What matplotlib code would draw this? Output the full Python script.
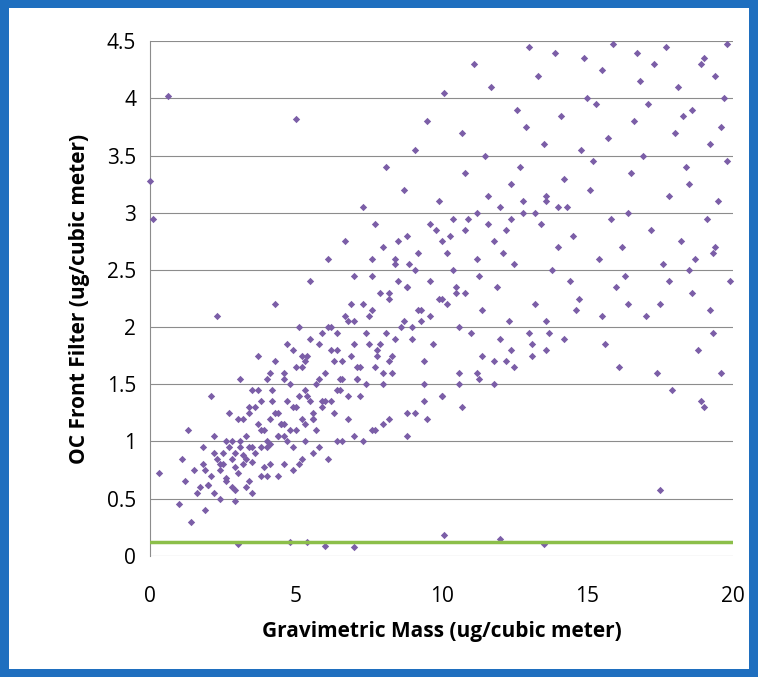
import matplotlib.pyplot as plt
from matplotlib.patches import Rectangle

# points read (approximately) off the reference scatter: outer spread
gravimetric_mass = [
    0.0, 0.1, 0.6, 0.3, 1.0, 1.2, 1.4, 1.1, 1.6, 1.8, 1.3, 1.5, 2.0, 2.2, 1.9, 2.4, 2.1, 2.6, 2.3, 2.8,
    2.5, 3.0, 2.7, 3.2, 2.9, 3.4, 3.1, 3.6, 3.3, 3.8, 3.5, 4.0, 3.7, 4.2, 3.9, 4.4, 4.1, 4.6, 4.3, 4.8,
    4.5, 5.0, 4.7, 5.2, 4.9, 5.4, 5.1, 5.6, 5.3, 5.8, 5.5, 6.0, 5.7, 6.2, 5.9, 6.4, 6.1, 6.6, 6.3, 6.8,
    6.5, 7.0, 6.7, 7.2, 6.9, 7.4, 7.1, 7.6, 7.3, 7.8, 7.5, 8.0, 7.7, 8.2, 7.9, 8.4, 8.1, 8.6, 8.3, 8.8,
    8.5, 9.0, 8.7, 9.2, 8.9, 9.4, 9.1, 9.6, 9.3, 9.8, 9.5, 10.0, 9.7, 10.2, 9.9, 10.4, 10.1, 10.6, 10.3, 10.8,
    10.5, 11.0, 10.7, 11.2, 10.9, 11.4, 11.1, 11.6, 11.3, 11.8, 11.5, 12.0, 11.7, 12.2, 11.9, 12.4, 12.1, 12.6, 12.3, 12.8,
    12.5, 13.0, 12.7, 13.2, 12.9, 13.4, 13.1, 13.6, 13.3, 13.8, 13.5, 14.0, 13.7, 14.2, 13.9, 14.4, 14.1, 14.6, 14.3, 14.8,
    14.5, 15.0, 14.7, 15.2, 14.9, 15.4, 15.1, 15.6, 15.3, 15.8, 15.5, 16.0, 15.7, 16.2, 15.9, 16.4, 16.1, 16.6, 16.3, 16.8,
    16.5, 17.0, 16.7, 17.2, 16.9, 17.4, 17.1, 17.6, 17.3, 17.8, 17.5, 18.0, 17.7, 18.2, 17.9, 18.4, 18.1, 18.6, 18.3, 18.8,
    18.5, 19.0, 18.7, 19.2, 18.9, 19.4, 19.1, 19.6, 19.3, 19.8, 19.5, 19.9, 19.7, 19.6, 19.8, 19.2, 18.9, 19.4, 18.6, 19.0,
    3.1, 4.6, 5.9, 7.1, 6.4, 8.2, 3.8, 5.3, 4.1, 6.8, 2.4, 3.5, 4.9, 5.6, 7.7, 6.1, 8.8, 9.5, 10.7, 11.8,
    12.5, 13.6, 2.9, 3.3, 4.4, 5.1, 6.6, 7.3, 8.0, 9.1, 10.0, 11.3, 12.2, 13.1, 14.2, 15.5, 16.4, 17.8, 18.5, 19.3,
    13.5, 12.0, 10.1, 17.5, 5.4, 3.0, 7.0, 4.8, 6.0, 5.0,
]
oc_front_filter = [
    3.28, 2.95, 4.02, 0.72, 0.45, 0.65, 0.30, 0.85, 0.55, 0.95, 1.10, 0.75, 0.62, 1.05, 0.40, 0.80, 1.40, 0.68, 2.10, 1.00,
    0.90, 0.72, 1.25, 1.20, 0.58, 0.95, 1.55, 1.30, 0.85, 1.10, 1.45, 1.00, 1.75, 1.35, 0.78, 1.25, 1.60, 1.05, 2.20, 1.50,
    1.15, 1.30, 1.85, 1.65, 0.95, 1.40, 2.00, 1.20, 1.70, 1.55, 2.40, 1.35, 1.10, 1.80, 1.95, 1.45, 2.60, 1.70, 1.25, 2.05,
    1.55, 1.85, 2.75, 1.40, 2.20, 1.95, 1.65, 2.45, 3.05, 1.75, 2.10, 1.50, 2.90, 2.30, 1.85, 2.60, 3.40, 2.00, 1.60, 2.35,
    2.75, 1.90, 3.20, 2.15, 2.55, 1.70, 3.55, 2.40, 2.05, 2.85, 3.80, 2.25, 1.85, 2.65, 3.10, 2.50, 4.05, 2.00, 2.80, 3.35,
    2.30, 1.95, 3.70, 2.60, 2.95, 2.15, 4.30, 3.15, 2.45, 2.75, 3.50, 1.90, 4.10, 2.85, 2.35, 3.25, 2.65, 3.90, 2.05, 3.00,
    2.55, 4.45, 3.40, 2.20, 3.75, 2.90, 1.75, 3.10, 4.20, 2.50, 3.60, 2.70, 1.95, 3.30, 4.40, 2.40, 3.85, 2.15, 3.05, 3.55,
    2.80, 4.00, 2.25, 3.45, 4.35, 2.60, 3.20, 1.85, 3.95, 2.95, 4.25, 2.35, 3.65, 2.70, 4.48, 3.00, 1.65, 3.80, 2.45, 4.15,
    3.35, 2.10, 4.40, 2.85, 3.50, 1.60, 3.95, 2.55, 4.30, 3.15, 2.20, 3.70, 4.45, 2.75, 1.45, 3.40, 4.10, 2.30, 3.85, 1.80,
    3.25, 4.35, 2.60, 3.60, 1.35, 4.20, 2.95, 3.75, 1.95, 4.48, 3.10, 2.40, 4.00, 1.60, 3.45, 2.15, 4.30, 2.70, 3.90, 1.30,
    0.95, 1.15, 1.35, 1.55, 1.80, 1.70, 0.70, 1.00, 0.80, 1.20, 0.50, 0.55, 0.75, 0.90, 1.10, 0.85, 1.05, 1.20, 1.30, 1.50,
    1.65, 1.80, 0.48, 0.60, 0.70, 0.80, 1.00, 1.00, 1.15, 1.25, 1.40, 1.55, 1.70, 1.85, 1.90, 2.10, 2.20, 2.40, 2.50, 2.65,
    0.10, 0.15, 0.18, 0.58, 0.12, 0.10, 0.08, 0.12, 0.09, 3.82,
]

# dense core of the cloud (x 1.5 - 11, y 0.5 - 2.8)
core_mass = [
    1.7, 1.9, 2.1, 2.3, 2.5, 2.7, 2.9, 3.1, 3.3, 3.5, 3.7, 3.9, 4.1, 4.3, 4.5, 4.7, 4.9, 5.1, 5.3, 5.5,
    1.8, 2.0, 2.2, 2.4, 2.6, 2.8, 3.0, 3.2, 3.4, 3.6, 3.8, 4.0, 4.2, 4.4, 4.6, 4.8, 5.0, 5.2, 5.4, 5.6,
    2.6, 2.9, 3.2, 3.5, 3.8, 4.1, 4.4, 4.7, 5.0, 5.3, 5.6, 5.9, 6.2, 6.5, 6.8, 7.1, 7.4, 7.7, 8.0, 8.3,
    3.4, 3.7, 4.0, 4.3, 4.6, 4.9, 5.2, 5.5, 5.8, 6.1, 6.4, 6.7, 7.0, 7.3, 7.6, 7.9, 8.2, 8.5, 8.8, 9.1,
    5.7, 6.0, 6.3, 6.6, 6.9, 7.2, 7.5, 7.8, 8.1, 8.4, 8.7, 9.0, 9.3, 9.6, 9.9, 10.2, 10.5, 10.8, 6.2, 7.0,
    7.6, 8.0, 8.4, 8.8, 9.2, 9.6, 10.0, 10.4, 10.8, 11.2, 11.6, 12.0, 12.4, 12.8, 13.2, 13.6, 14.0, 9.4, 10.6, 11.4,
    2.2, 2.8, 3.4, 4.0, 4.6, 5.2, 5.8, 6.4, 7.0, 7.6, 8.2, 8.8, 9.4, 10.0, 10.6, 11.2, 11.8, 12.4, 13.0, 13.6,
]
core_oc = [
    0.60, 0.75, 0.70, 0.85, 0.80, 0.95, 0.90, 1.00, 1.05, 0.95, 1.15, 1.10, 1.20, 1.25, 1.15, 1.35, 1.30, 1.40, 1.45, 1.35,
    0.80, 0.62, 0.90, 0.75, 1.00, 0.85, 1.20, 0.80, 1.25, 0.90, 1.35, 0.95, 1.45, 1.05, 1.55, 1.10, 1.65, 1.20, 1.75, 1.25,
    0.65, 0.78, 0.88, 0.82, 0.95, 0.98, 1.05, 1.00, 1.10, 1.15, 1.20, 1.30, 1.35, 1.45, 1.40, 1.55, 1.50, 1.65, 1.60, 1.75,
    1.30, 1.45, 1.55, 1.70, 1.60, 1.80, 1.75, 1.90, 1.85, 2.00, 1.95, 2.10, 2.05, 2.20, 2.15, 2.30, 2.25, 2.40, 2.35, 2.50,
    1.50, 1.60, 1.70, 1.55, 1.75, 1.65, 1.85, 1.80, 1.95, 1.90, 2.05, 2.00, 2.15, 2.10, 2.25, 2.20, 2.35, 2.30, 2.00, 2.45,
    2.60, 2.70, 2.55, 2.80, 2.65, 2.90, 2.75, 2.95, 2.85, 3.00, 2.90, 3.05, 2.95, 3.10, 3.00, 3.15, 3.05, 1.50, 1.60, 1.75,
    0.55, 0.60, 0.65, 0.70, 0.80, 0.85, 0.95, 1.00, 1.05, 1.10, 1.20, 1.25, 1.35, 1.40, 1.50, 1.60, 1.70, 1.80, 1.95, 2.05,
]
detection_limit = 0.12

fig = plt.figure(figsize=(7.58, 6.77), dpi=100)
fig.patch.set_facecolor("#1f6fbf")
fig.patches.append(Rectangle((0.012, 0.012), 0.976, 0.976, transform=fig.transFigure,
                             facecolor="white", edgecolor="none", zorder=-5))

ax = fig.add_axes([0.198, 0.179, 0.769, 0.76])
ax.set_facecolor("white")
ax.scatter(gravimetric_mass + core_mass, oc_front_filter + core_oc, s=14, marker="D",
           color="#7b5ea7", linewidths=0, zorder=3, clip_on=False)
ax.axhline(detection_limit, color="#8cbf4a", lw=2.5, zorder=4)

ax.set_xlim(0, 20)
ax.set_ylim(0, 4.5)
ax.set_xticks([0, 5, 10, 15, 20])
ax.set_yticks([0, 0.5, 1, 1.5, 2, 2.5, 3, 3.5, 4, 4.5])
ax.set_yticklabels(["0", "0.5", "1", "1.5", "2", "2.5", "3", "3.5", "4", "4.5"])
ax.grid(axis="y", color="#8c8c8c", lw=0.8, zorder=0)
for s in ["top", "right", "bottom"]:
    ax.spines[s].set_visible(False)
ax.spines["left"].set_color("#8c8c8c")
ax.tick_params(axis="y", length=0, labelsize=15, pad=10)
ax.tick_params(axis="x", length=0, labelsize=15, pad=22)
for lab in ax.get_xticklabels() + ax.get_yticklabels():
    lab.set_family("Open Sans")

ax.set_xlabel("Gravimetric Mass (ug/cubic meter)", fontsize=15, fontweight="bold",
              family="Open Sans", labelpad=10)
ax.set_ylabel("OC Front Filter (ug/cubic meter)", fontsize=15, fontweight="bold",
              family="Open Sans", labelpad=12)

fig.savefig("out.png", dpi=100, facecolor=fig.get_facecolor())
